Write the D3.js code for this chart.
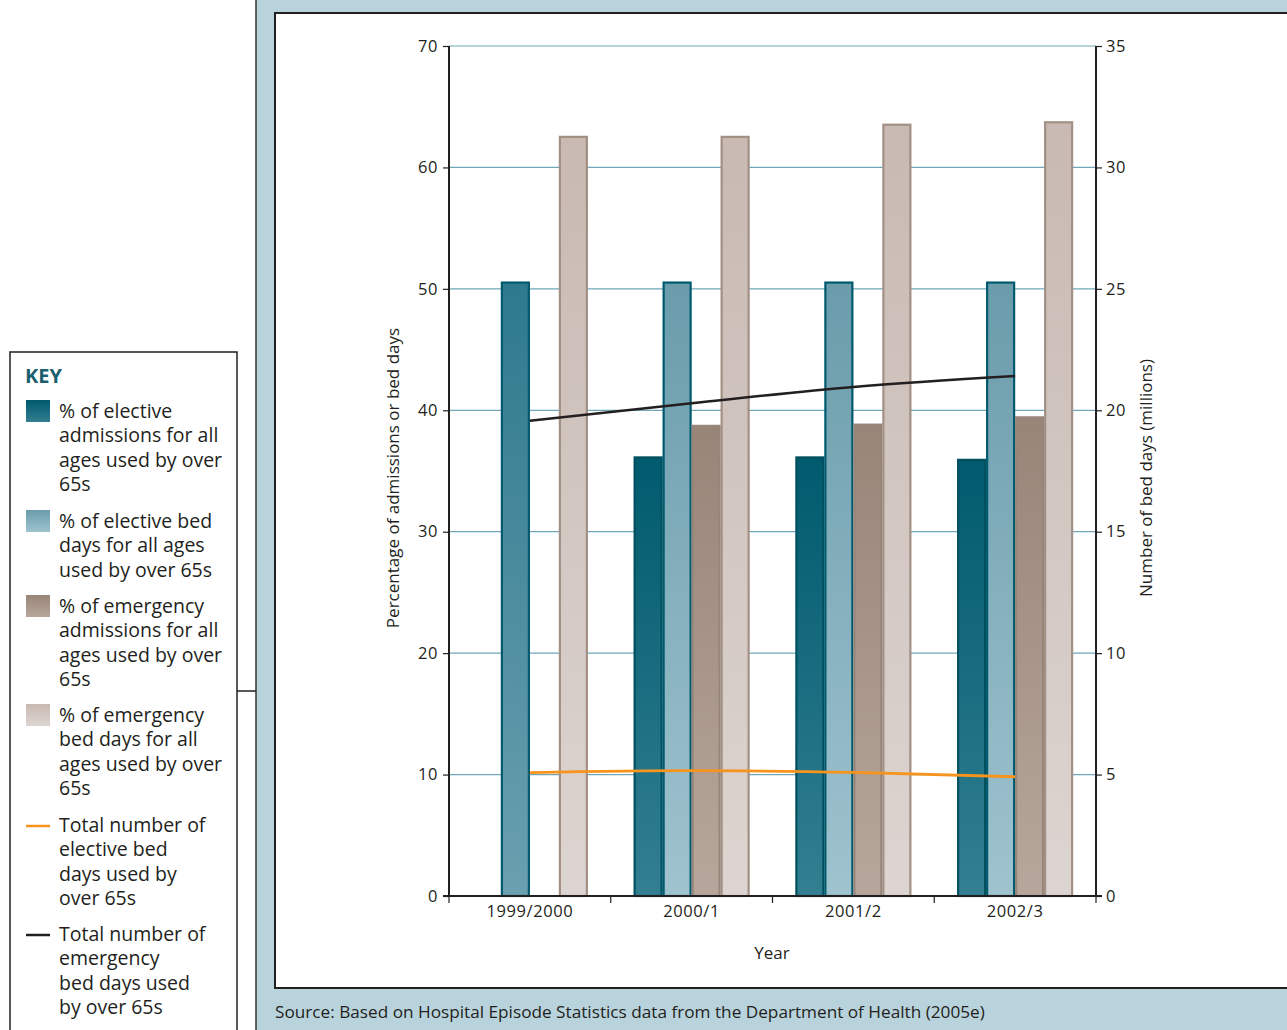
<!DOCTYPE html>
<html><head><meta charset="utf-8">
<script src="https://cdn.jsdelivr.net/npm/d3@7"></script>
<style>
html,body{margin:0;padding:0;background:#fff;}
svg{display:block;font-family:"Open Sans",Lato,sans-serif;}
</style></head>
<body>
<svg id="c" width="1287" height="1030"></svg>
<script>
const years = ["1999/2000","2000/1","2001/2","2002/3"];
const electiveAdmissions = [null, 36.2, 36.2, 36.0];
const electiveBedDays = [50.6, 50.6, 50.6, 50.6];
const emergencyAdmissions = [null, 38.8, 38.9, 39.5];
const emergencyBedDays = [62.6, 62.6, 63.6, 63.8];
const totalElectiveBedDays = [5.08, 5.16, 5.09, 4.91];
const totalEmergencyBedDays = [19.57, 20.29, 20.96, 21.41];
const leftTicks = [0,10,20,30,40,50,60,70];
const rightTicks = [0,5,10,15,20,25,30,35];
const keyLines = [
  ["% of elective","admissions for all","ages used by over","65s"],
  ["% of elective bed","days for all ages","used by over 65s"],
  ["% of emergency","admissions for all","ages used by over","65s"],
  ["% of emergency","bed days for all","ages used by over","65s"],
  ["Total number of","elective bed","days used by","over 65s"],
  ["Total number of","emergency","bed days used","by over 65s"]
];

const FONT = "'Open Sans',Lato,sans-serif";
const svg = d3.select("#c");
const defs = svg.append("defs");
const grads = [
  {id:"g0", top:"#005a6d", bot:"#327f91", stroke:"#00505f"},
  {id:"g1", top:"#6a9cab", bot:"#9fc3cf", stroke:"#005a6e"},
  {id:"g2", top:"#988578", bot:"#b7a69b", stroke:"#97857a"},
  {id:"g3", top:"#c8b9b2", bot:"#ddd5d1", stroke:"#a39085"},
  {id:"gm", top:"#2e798d", bot:"#6aa0b0", stroke:"#005a6e"}
];
grads.forEach(g=>{
  const lg = defs.append("linearGradient").attr("id",g.id).attr("x1",0).attr("y1",0).attr("x2",0).attr("y2",1);
  lg.append("stop").attr("offset","0%").attr("stop-color",g.top);
  lg.append("stop").attr("offset","100%").attr("stop-color",g.bot);
});

// panel background
svg.append("rect").attr("x",256).attr("y",0).attr("width",1031).attr("height",1030).attr("fill","#b9d3dc");
svg.append("line").attr("x1",256).attr("x2",256).attr("y1",0).attr("y2",1030).attr("stroke","#333").attr("stroke-width",1.5);
svg.append("rect").attr("x",275).attr("y",13).attr("width",1030).attr("height",975).attr("fill","#fff").attr("stroke","#231f20").attr("stroke-width",2);
svg.append("text").attr("x",275).attr("y",1018).attr("font-size",17.2).attr("fill","#231f20")
  .text("Source: Based on Hospital Episode Statistics data from the Department of Health (2005e)");

// key box
svg.append("rect").attr("x",10).attr("y",352).attr("width",227).attr("height",700).attr("fill","#fff").attr("stroke","#231f20").attr("stroke-width",1.5);
svg.append("line").attr("x1",237).attr("x2",256).attr("y1",691).attr("y2",691).attr("stroke","#231f20").attr("stroke-width",1.5);

// scales
const x0 = d3.scaleBand().domain(years).range([449,1096]).paddingInner(0).paddingOuter(0);
const x1 = d3.scaleBand().domain([0,1,2,3]).range([0,116]);
const yL = d3.scaleLinear().domain([0,70]).range([896,46]);
const yR = d3.scaleLinear().domain([0,35]).range([896,46]);
const off = (x0.bandwidth()-116)/2;

// gridlines
svg.append("g").selectAll("line").data(leftTicks.filter(d=>d>0)).join("line")
  .attr("x1",449).attr("x2",1096).attr("y1",d=>yL(d)).attr("y2",d=>yL(d))
  .attr("stroke","#6fa7b8").attr("stroke-width",1.2);

// bars
const series = [electiveAdmissions, electiveBedDays, emergencyAdmissions, emergencyBedDays];
series.forEach((vals,s)=>{
  const data = years.map((y,i)=>({y, i, v:vals[i]})).filter(d=>d.v!=null);
  svg.append("g").selectAll("rect").data(data).join("rect")
    .attr("x",d=>x0(d.y)+off+x1(s)+1)
    .attr("y",d=>yL(d.v)+1)
    .attr("width",x1.bandwidth()-2)
    .attr("height",d=>yL(0)-yL(d.v)-1)
    .attr("fill",d=>{
      const mid = (s===1 && electiveAdmissions[d.i]==null);
      return mid ? "url(#gm)" : `url(#${grads[s].id})`;
    })
    .attr("stroke",grads[s].stroke).attr("stroke-width",2.2);
});

// lines
const cx = y => x0(y)+x0.bandwidth()/2;
const lineGen = d3.line().x(d=>cx(d.y)).y(d=>yR(d.v)).curve(d3.curveMonotoneX);
svg.append("path").datum(years.map((y,i)=>({y,v:totalElectiveBedDays[i]})))
  .attr("d",lineGen).attr("fill","none").attr("stroke","#f7941d").attr("stroke-width",2.8);
svg.append("path").datum(years.map((y,i)=>({y,v:totalEmergencyBedDays[i]})))
  .attr("d",lineGen).attr("fill","none").attr("stroke","#231f20").attr("stroke-width",2.5);

// axes
const axisColor = "#231f20";
const left = svg.append("g").attr("transform","translate(449,0)")
  .call(d3.axisLeft(yL).tickValues(leftTicks).tickSize(6).tickPadding(5));
const right = svg.append("g").attr("transform","translate(1096,0)")
  .call(d3.axisRight(yR).tickValues(rightTicks).tickSize(6).tickPadding(4));
const bottom = svg.append("g").attr("transform","translate(0,896)")
  .call(d3.axisBottom(x0).tickSize(0).tickPadding(9));
[left,right,bottom].forEach(a=>{
  a.selectAll("path").attr("stroke",axisColor).attr("stroke-width",2);
  a.selectAll("line").attr("stroke",axisColor).attr("stroke-width",1.2);
  a.selectAll("text").attr("fill","#231f20").attr("font-size",16.5).attr("letter-spacing","0.6px").attr("font-family",FONT);
});
bottom.select("path.domain").attr("d","M443,0H1102");
bottom.append("g").selectAll("line").data(d3.range(0,5)).join("line")
  .attr("x1",i=>449+i*x0.bandwidth()).attr("x2",i=>449+i*x0.bandwidth())
  .attr("y1",0).attr("y2",7).attr("stroke",axisColor).attr("stroke-width",1.2);
left.select("path.domain").attr("d","M0,46V896");
right.select("path.domain").attr("d","M0,46V896");

// axis titles
svg.append("text").attr("transform","translate(399,478) rotate(-90)").attr("text-anchor","middle")
  .attr("font-size",17).attr("fill","#231f20").text("Percentage of admissions or bed days");
svg.append("text").attr("transform","translate(1152,478) rotate(-90)").attr("text-anchor","middle")
  .attr("font-size",17).attr("fill","#231f20").text("Number of bed days (millions)");
svg.append("text").attr("x",772).attr("y",959).attr("text-anchor","middle")
  .attr("font-size",17).attr("fill","#231f20").text("Year");

// key
const key = svg.append("g");
key.append("text").attr("x",25).attr("y",383).attr("font-size",20).attr("font-weight","bold")
  .attr("fill","#1b5f6f").text("KEY");
const itemTops = [400, 510, 595, 704, 814, 923];
keyLines.forEach((lines,k)=>{
  const top = itemTops[k];
  if(k<4){
    key.append("rect").attr("x",26).attr("y",top).attr("width",24).attr("height",22)
      .attr("fill",`url(#${grads[k].id})`);
  } else {
    key.append("line").attr("x1",26).attr("x2",50).attr("y1",top+12).attr("y2",top+12)
      .attr("stroke",k===4?"#f7941d":"#231f20").attr("stroke-width",2.5);
  }
  const t = key.append("text").attr("x",59).attr("y",top+18).attr("font-size",19.5).attr("fill","#231f20");
  lines.forEach((ln,j)=>t.append("tspan").attr("x",59).attr("dy",j===0?0:24.4).text(ln));
});
</script>
</body></html>
